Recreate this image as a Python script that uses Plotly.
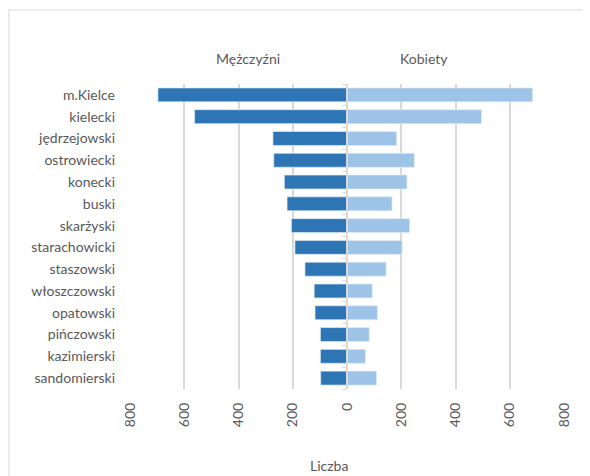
import plotly.graph_objects as go

categories = ["m.Kielce", "kielecki", "jędrzejowski", "ostrowiecki", "konecki", "buski",
              "skarżyski", "starachowicki", "staszowski", "włoszczowski", "opatowski",
              "pińczowski", "kazimierski", "sandomierski"]
men = [697, 562, 273, 270, 231, 221, 205, 192, 155, 121, 118, 98, 98, 97]
women = [684, 496, 183, 248, 221, 166, 231, 203, 144, 93, 112, 82, 68, 109]
tick_vals = [-800, -600, -400, -200, 0, 200, 400, 600, 800]
tick_text = ["800", "600", "400", "200", "0", "200", "400", "600", "800"]

FONT = "Lato"
GRAY = "#595959"
GRID = "#D9D9D9"
FS = 14

fig = go.Figure()
fig.add_trace(go.Bar(y=categories, x=[-v for v in men], orientation="h", name="Mężczyźni",
                     marker=dict(color="#2E75B6", line=dict(color="#DDEBF7", width=0.7))))
fig.add_trace(go.Bar(y=categories, x=women, orientation="h", name="Kobiety", yaxis="y2",
                     marker=dict(color="#9DC3E6", line=dict(color="#DDEBF7", width=0.7))))

fig.update_layout(
    width=582, height=468,
    margin=dict(l=122, r=26, t=76, b=87),
    barmode="overlay", bargap=0.36,
    showlegend=False,
    plot_bgcolor="white", paper_bgcolor="white",
    font=dict(family=FONT, color=GRAY, size=FS),
    xaxis=dict(range=[-800, 800], tickvals=tick_vals, ticktext=tick_text, tickangle=-90,
               showgrid=True, gridcolor=GRID, gridwidth=1.6,
               zeroline=False,
               showline=False, ticks="", ticklabelstandoff=10,
               tickfont=dict(size=FS, color=GRAY, family=FONT)),
    yaxis=dict(categoryorder="array", categoryarray=categories[::-1],
               showgrid=False, showline=False, ticks="", ticklabelstandoff=14,
               tickfont=dict(size=FS, color=GRAY, family=FONT)),
    yaxis2=dict(categoryorder="array", categoryarray=categories[::-1],
                overlaying="y", anchor="free", position=0.5, side="left",
                showgrid=False, showline=True, linecolor=GRID, linewidth=1.6,
                ticks="outside", ticklen=4, tickcolor=GRID, tickwidth=1.2,
                tickson="boundaries", showticklabels=False),
    shapes=[dict(type="rect", xref="paper", yref="paper", x0=-0.279, x1=1.08, y0=-0.30, y1=1.2426,
                 line=dict(color=GRID, width=1), fillcolor="rgba(0,0,0,0)", layer="below")],
    annotations=[
        dict(text="Mężczyźni", xref="paper", yref="paper", x=0.272, y=1.085, showarrow=False,
             xanchor="center", yanchor="middle", font=dict(size=FS, color=GRAY, family=FONT)),
        dict(text="Kobiety", xref="paper", yref="paper", x=0.677, y=1.085, showarrow=False,
             xanchor="center", yanchor="middle", font=dict(size=FS, color=GRAY, family=FONT)),
        dict(text="Liczba", xref="paper", yref="paper", x=0.4585, y=-0.252, showarrow=False,
             xanchor="center", yanchor="middle", font=dict(size=FS, color=GRAY, family=FONT)),
    ],
)

fig.write_html("out.html")
